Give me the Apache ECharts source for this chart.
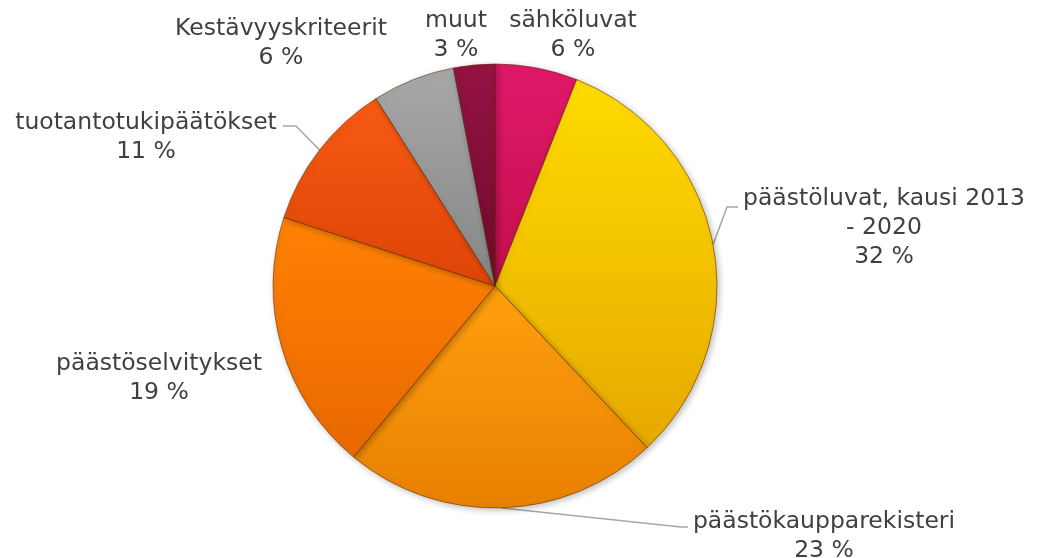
<!DOCTYPE html>
<html>
<head>
<meta charset="utf-8">
<script src="https://cdn.jsdelivr.net/npm/echarts@6/dist/echarts.min.js"></script>
<style>html,body{margin:0;padding:0;background:#fff}#main{width:1047px;height:558px}</style>
</head>
<body>
<div id="main"></div>
<script>
var categories = ['sähköluvat', 'päästöluvat, kausi 2013\n- 2020', 'päästökaupparekisteri', 'päästöselvitykset', 'tuotantotukipäätökset', 'Kestävyyskriteerit', 'muut'];
var values = [6, 32, 23, 19, 11, 6, 3];

// slice colours, top and bottom of the gradient
var topColors = ['#e0186a', '#ffdc00', '#ffa010', '#ff8205', '#f75a12', '#a8a8a8', '#951343'];
var bottomColors = ['#c40f4c', '#e6a800', '#e88000', '#e86800', '#de4408', '#868686', '#6e0a2c'];

// where each label sits (centre x, top y) and the bends of its leader line
var labelSpots = [[573, 6], [884, 184], [824, 507], [159, 349], [146, 108], [281, 14], [456, 6]];
var lineBends = [null, [[727, 207], [738, 207]], [[681, 527], [688, 527]], null, [[296, 126], [283, 126]], null, null];

var myChart = echarts.init(document.getElementById('main'));

var data = categories.map(function (name, i) {
    return {
        name: name,
        value: values[i],
        itemStyle: {
            color: new echarts.graphic.LinearGradient(0, 0, 0, 1, [
                { offset: 0, color: topColors[i] },
                { offset: 1, color: bottomColors[i] }
            ])
        },
        labelLine: { show: !!lineBends[i] }
    };
});

var option = {
    animation: false,
    backgroundColor: '#ffffff',
    series: [
        {
            type: 'pie',
            center: [495, 286],
            radius: [0, 222],
            startAngle: 90,
            clockwise: true,
            avoidLabelOverlap: false,
            data: data,
            itemStyle: {
                borderColor: 'rgba(90, 40, 0, 0.55)',
                borderWidth: 1,
                shadowBlur: 6,
                shadowColor: 'rgba(0, 0, 0, 0.25)',
                shadowOffsetX: 2,
                shadowOffsetY: 2
            },
            label: {
                show: true,
                position: 'outside',
                color: '#404040',
                fontFamily: 'DejaVu Sans',
                fontSize: 23.5,
                lineHeight: 29,
                align: 'center',
                formatter: function (p) {
                    return p.name + '\n' + Math.round(p.percent) + ' %';
                }
            },
            labelLine: {
                show: true,
                length: 10,
                length2: 10,
                lineStyle: { color: '#a6a6a6', width: 1.5 }
            },
            labelLayout: function (params) {
                var i = params.dataIndex;
                var s = labelSpots[i];
                var out = { x: s[0], y: s[1], align: 'center', verticalAlign: 'top' };
                if (lineBends[i] && params.labelLinePoints) {
                    out.labelLinePoints = [params.labelLinePoints[0]].concat(lineBends[i]);
                }
                return out;
            }
        }
    ]
};

myChart.setOption(option);
</script>
</body>
</html>
